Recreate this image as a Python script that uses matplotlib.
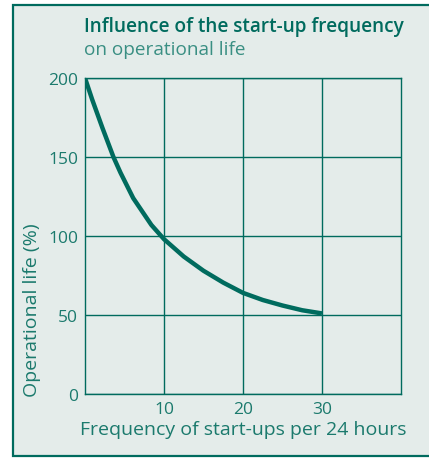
import matplotlib.pyplot as plt
from matplotlib.patches import Rectangle

# operational life vs. start-up frequency
starts_per_day = [0, 0.9, 2.2, 3.6, 4.5, 6.1, 8.4, 10, 12.5, 15, 17.5, 20, 22.5, 25, 27.5, 30]
life_pct = [200, 186.5, 168.5, 150, 140, 124, 107, 98, 87, 78, 70.5, 64, 59.5, 56, 53, 51]

x_ticks = [10, 20, 30]
y_ticks = [0, 50, 100, 150, 200]

teal = '#006b5e'
text_teal = '#1b7a6d'
light_teal = '#3a8f83'
bg = '#e4ecea'

plt.rcParams['font.family'] = ['Open Sans', 'DejaVu Sans']

fig = plt.figure(figsize=(4.29, 4.60), dpi=100)
fig.patch.set_facecolor('white')

# panel background with left/top/bottom border
W, H = 429, 460
panel = Rectangle((13 / W, 3 / H), 1.2, 451 / H, transform=fig.transFigure,
                  facecolor=bg, edgecolor=teal, lw=1.6, zorder=-1)
fig.add_artist(panel)

ax = fig.add_axes([85 / W, 65 / H, 316 / W, 316 / H])
ax.set_facecolor(bg)
ax.plot(starts_per_day, life_pct, color=teal, lw=3.2, solid_joinstyle='round',
        solid_capstyle='butt', zorder=3)

ax.set_xlim(0, 40)
ax.set_ylim(0, 200)
ax.set_xticks(x_ticks)
ax.set_yticks(y_ticks)
ax.grid(True, color=teal, lw=1.0)
for s in ax.spines.values():
    s.set_color(teal)
    s.set_linewidth(1.0)
ax.tick_params(length=0, labelsize=12.5, colors=text_teal, pad=5)

ax.set_xlabel('Frequency of start-ups per 24 hours', color=text_teal, fontsize=14, labelpad=2)
fig.text(32 / W, (H - 397) / H, 'Operational life (%)', rotation=90, ha='center', va='bottom',
         color=text_teal, fontsize=14)

fig.text(84 / W, (H - 27) / H, 'Influence of the start-up frequency', ha='left', va='center',
         color=teal, fontsize=13.7, fontweight='semibold')
fig.text(84 / W, (H - 50) / H, 'on operational life', ha='left', va='center',
         color=light_teal, fontsize=13.7)

fig.savefig('out.png', dpi=100, facecolor=fig.get_facecolor())
